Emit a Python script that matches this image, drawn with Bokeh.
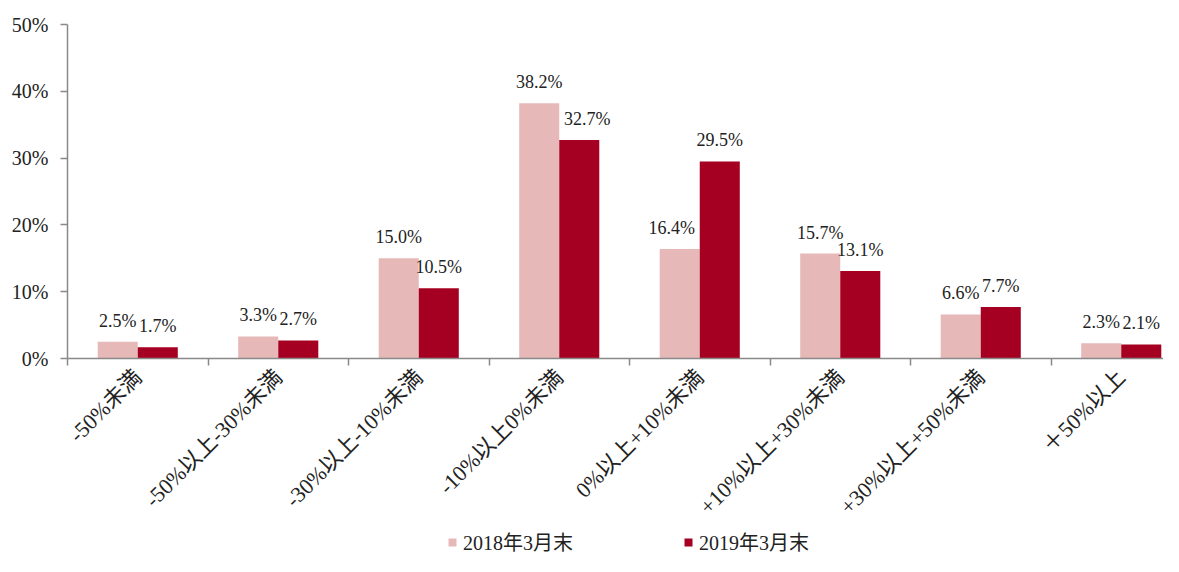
import numpy as np
from bokeh.plotting import figure
from bokeh.layouts import column
from bokeh.models import (ColumnDataSource, FixedTicker, Range1d, Legend, LegendItem)
from bokeh.embed import file_html
from bokeh.resources import INLINE

categories = ["-50%未満", "-50%以上-30%未満", "-30%以上-10%未満", "-10%以上0%未満",
              "0%以上+10%未満", "+10%以上+30%未満", "+30%以上+50%未満", "＋50%以上"]
series_names = ["2018年3月末", "2019年3月末"]
values_2018 = [2.5, 3.3, 15.0, 38.2, 16.4, 15.7, 6.6, 2.3]
values_2019 = [1.7, 2.7, 10.5, 32.7, 29.5, 13.1, 7.7, 2.1]
y_ticks = [0, 10, 20, 30, 40, 50]
y_tick_labels = ["0%", "10%", "20%", "30%", "40%", "50%"]

FONT = "Liberation Serif, 'Noto Sans CJK JP'"
PINK = "#E6B8B7"
RED = "#A50021"
AXIS = "#898989"
TXT = "#222222"

W = 1163
H1, H2 = 530, 26
LEFT, TOP, FRAME_BOTTOM = 67, 24, 358
plot_w = W - LEFT
cat_px = 140.5
n = len(categories)

# small screen-pixel nudges of data labels (as in the reference, to avoid overlaps)
dx18 = [0, 0, 0, 0, -8, 0, 0, 0]
dx19 = [0, 0, 0, 8, 0, 0, 0, 0]

p = figure(width=W, height=H1, output_backend="svg", toolbar_location=None,
           x_range=Range1d(0, plot_w / cat_px), y_range=Range1d(0, 50),
           min_border_left=LEFT, min_border_right=0, min_border_top=TOP,
           min_border_bottom=H1 - FRAME_BOTTOM)
p.outline_line_color = None
p.grid.visible = False
p.background_fill_color = "white"

idx = np.arange(n)
bw = 0.285
x18 = idx + 0.5 - bw / 2
x19 = idx + 0.5 + bw / 2
src18 = ColumnDataSource(dict(x=x18, top=values_2018, dx=dx18,
                              lab=[f"{v:.1f}%" for v in values_2018]))
src19 = ColumnDataSource(dict(x=x19, top=values_2019, dx=dx19,
                              lab=[f"{v:.1f}%" for v in values_2019]))

p.vbar(x="x", top="top", width=bw, source=src18, fill_color=PINK, line_color=None)
p.vbar(x="x", top="top", width=bw, source=src19, fill_color=RED, line_color=None)

for s in (src18, src19):
    p.text(x="x", y="top", text="lab", source=s, text_align="center", text_baseline="bottom",
           x_offset="dx", y_offset=-11, text_font=FONT, text_font_size="18px", text_color=TXT)

# x axis
xa = p.xaxis[0]
xa.ticker = FixedTicker(ticks=list(idx + 0.5), minor_ticks=list(range(0, n + 1)))
xa.major_label_overrides = {float(i + 0.5): c for i, c in enumerate(categories)}
xa.major_label_orientation = np.pi / 4
xa.major_tick_line_color = None
xa.major_tick_in = 0
xa.major_tick_out = 0
xa.minor_tick_line_color = AXIS
xa.minor_tick_in = 0
xa.minor_tick_out = 7
xa.minor_tick_line_width = 1.5
xa.axis_line_color = AXIS
xa.axis_line_width = 1.5
xa.major_label_text_font = FONT
xa.major_label_text_font_size = "22px"
xa.major_label_text_color = TXT
xa.major_label_standoff = 8

ya = p.yaxis[0]
ya.ticker = FixedTicker(ticks=y_ticks)
ya.major_label_overrides = {t: l for t, l in zip(y_ticks, y_tick_labels)}
ya.minor_tick_line_color = None
ya.major_tick_in = 0
ya.major_tick_out = 7
ya.major_tick_line_color = AXIS
ya.major_tick_line_width = 1.5
ya.axis_line_color = AXIS
ya.axis_line_width = 1.5
ya.major_label_text_font = FONT
ya.major_label_text_font_size = "20px"
ya.major_label_text_color = TXT
ya.major_label_standoff = 12

# legend strip (frames are aligned with the main plot in the column)
q = figure(width=W, height=H2, output_backend="svg", toolbar_location=None,
           x_range=Range1d(0, 1), y_range=Range1d(0, 1),
           min_border_left=LEFT, min_border_right=0, min_border_top=0, min_border_bottom=0)
q.outline_line_color = None
q.xaxis.visible = False
q.yaxis.visible = False
q.grid.visible = False
lr18 = q.vbar(x=[0.5], top=[0], bottom=[0], width=0.01, fill_color=PINK, line_color=None)
lr19 = q.vbar(x=[0.5], top=[0], bottom=[0], width=0.01, fill_color=RED, line_color=None)
legend = Legend(items=[LegendItem(label=series_names[0], renderers=[lr18]),
                       LegendItem(label=series_names[1], renderers=[lr19])],
                orientation="horizontal", location=(447 - LEFT, 0),
                padding=0, margin=0, spacing=110, glyph_width=10, glyph_height=10,
                label_standoff=6, label_height=20, border_line_color=None,
                background_fill_alpha=0,
                label_text_font=FONT, label_text_font_size="20px", label_text_color=TXT)
q.add_layout(legend, "center")

layout = column(p, q, spacing=0)
open("out.html", "w").write(file_html(layout, INLINE))
